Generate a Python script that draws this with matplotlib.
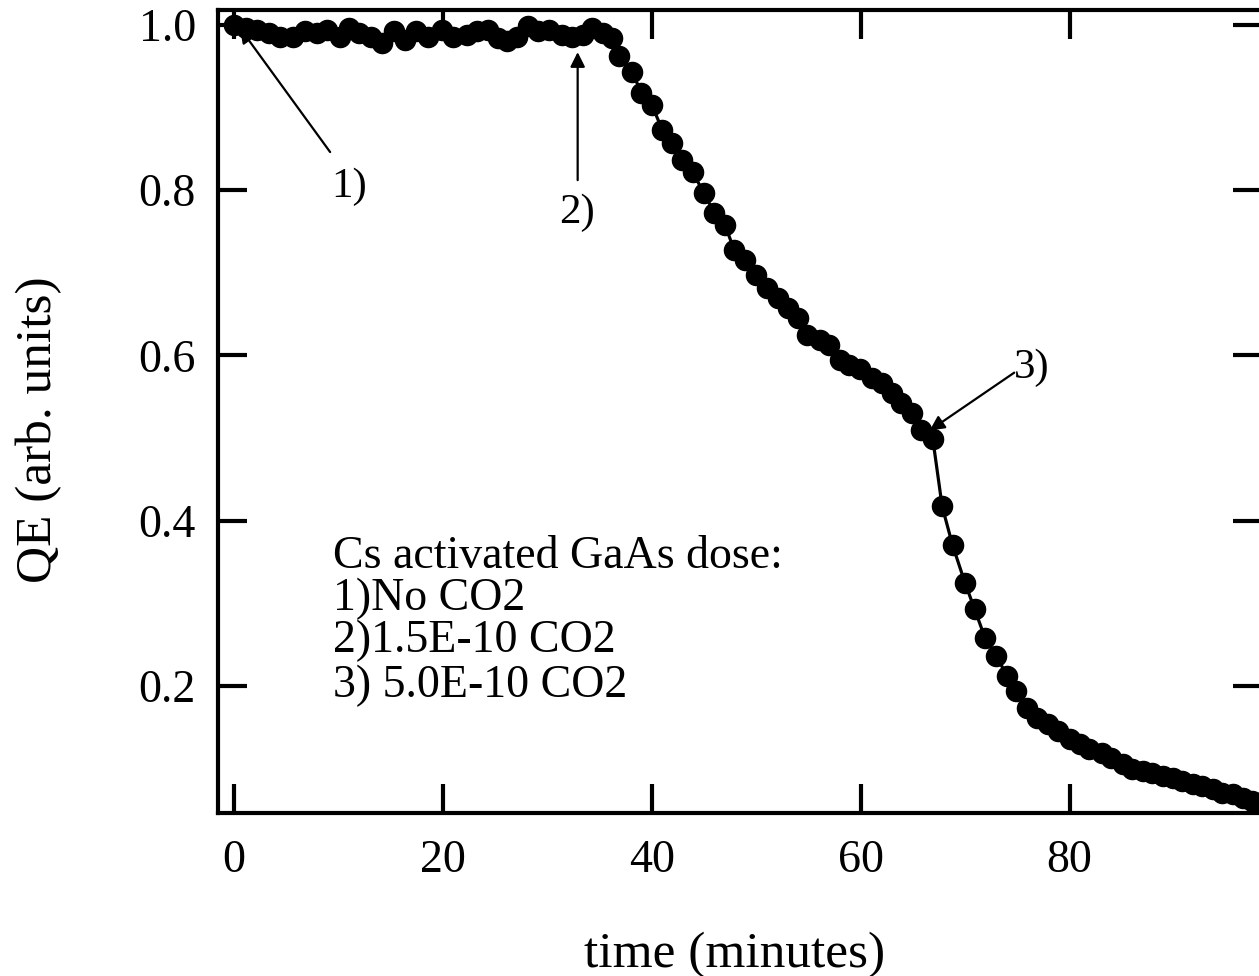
import matplotlib
matplotlib.use("Agg")
import matplotlib.pyplot as plt

plt.rcParams['font.family'] = ['Liberation Serif', 'DejaVu Serif']

time_min = [0.0, 1.1, 2.2, 3.3, 4.4, 5.6, 6.8, 7.9, 8.9, 10.1, 11.0, 12.0, 13.1, 14.2,
            15.3, 16.4, 17.4, 18.6, 19.9, 21.0, 22.3, 23.3, 24.3, 25.3, 26.1, 27.1,
            28.1, 29.1, 30.2, 31.4, 32.4, 33.4, 34.3, 35.3, 36.2,
            36.9, 38.1, 39.0, 40.0, 41.0, 41.9, 42.9, 43.9, 45.0, 46.0, 47.0, 47.9,
            48.9, 50.0, 51.0, 52.1, 53.0, 54.0, 54.9, 56.1, 57.0, 58.0, 58.9, 59.9,
            61.1, 62.0, 63.0, 63.9, 64.9, 65.8, 66.9,
            67.8, 68.8, 70.0, 70.9, 71.9, 73.0, 74.0, 74.9, 75.9, 76.9, 77.9, 78.9,
            80.0, 81.0, 81.9, 83.1, 84.0, 85.1, 86.0, 87.0, 87.9, 88.9, 89.9, 90.8,
            91.8, 92.7, 93.7, 94.6, 95.6, 96.6, 97.5, 98.4]
qe = [1.000, 0.996, 0.994, 0.990, 0.985, 0.985, 0.992, 0.990, 0.994, 0.985, 0.996,
      0.990, 0.985, 0.978, 0.992, 0.982, 0.992, 0.985, 0.994, 0.985, 0.988, 0.992,
      0.994, 0.984, 0.980, 0.985, 0.998, 0.992, 0.994, 0.988, 0.985, 0.988, 0.996,
      0.990, 0.984,
      0.962, 0.943, 0.918, 0.903, 0.873, 0.857, 0.836, 0.822, 0.796, 0.772, 0.758,
      0.727, 0.715, 0.697, 0.681, 0.669, 0.657, 0.645, 0.624, 0.618, 0.612, 0.594,
      0.588, 0.584, 0.573, 0.566, 0.554, 0.542, 0.530, 0.509, 0.499,
      0.417, 0.370, 0.324, 0.293, 0.258, 0.236, 0.212, 0.194, 0.173, 0.161, 0.154,
      0.145, 0.136, 0.130, 0.124, 0.119, 0.113, 0.105, 0.099, 0.097, 0.095, 0.091,
      0.088, 0.085, 0.081, 0.079, 0.075, 0.070, 0.069, 0.064, 0.061, 0.059]

x_ticks = [0, 20, 40, 60, 80]
y_ticks = [0.2, 0.4, 0.6, 0.8, 1.0]
y_tick_labels = ["0.2", "0.4", "0.6", "0.8", "1.0"]

legend_lines = ["Cs activated GaAs dose:", "1)No CO2", "2)1.5E-10 CO2", "3) 5.0E-10 CO2"]
legend_y = [0.356, 0.305, 0.254, 0.200]

fig = plt.figure(figsize=(12.59, 9.76), dpi=100)
ax = fig.add_axes([0.1732, 0.167, 0.829, 0.8228])

ax.plot(time_min, qe, color='black', lw=2.3, marker='o', markersize=14.5,
        markerfacecolor='black', markeredgecolor='black')

ax.set_xlim(-1.53, 98.4)
ax.set_ylim(0.046, 1.018)
ax.set_xticks(x_ticks)
ax.set_yticks(y_ticks)
ax.set_yticklabels(y_tick_labels)

for s in ax.spines.values():
    s.set_linewidth(3)
ax.tick_params(axis='both', which='major', direction='in', length=21, width=3,
               top=True, right=True, labelsize=33)
ax.tick_params(axis='x', pad=19)
ax.tick_params(axis='y', pad=16)

ax.set_xlabel("time (minutes)", fontsize=37)
ax.xaxis.set_label_coords(0.495, -0.177)
ax.xaxis.label.set_va('center')
ax.set_ylabel("QE (arb. units)", fontsize=37)
ax.yaxis.set_label_coords(-0.172, 0.477)
ax.yaxis.label.set_va('center')

arrow = dict(arrowstyle='-|>', lw=1.6, color='black', mutation_scale=22,
             shrinkA=0, shrinkB=0)
ax.annotate("", xy=(0.57, 0.996), xytext=(9.2, 0.846), arrowprops=arrow)
ax.text(11.0, 0.804, "1)", fontsize=31, ha='center', va='center')
ax.annotate("", xy=(32.9, 0.967), xytext=(32.9, 0.812), arrowprops=arrow)
ax.text(32.8, 0.773, "2)", fontsize=31, ha='center', va='center')
ax.annotate("", xy=(66.6, 0.509), xytext=(74.7, 0.579), arrowprops=arrow)
ax.text(76.4, 0.585, "3)", fontsize=31, ha='center', va='center')

for line, yy in zip(legend_lines, legend_y):
    ax.text(9.47, yy, line, fontsize=33, ha='left', va='center')

fig.savefig("out.png", dpi=100)
